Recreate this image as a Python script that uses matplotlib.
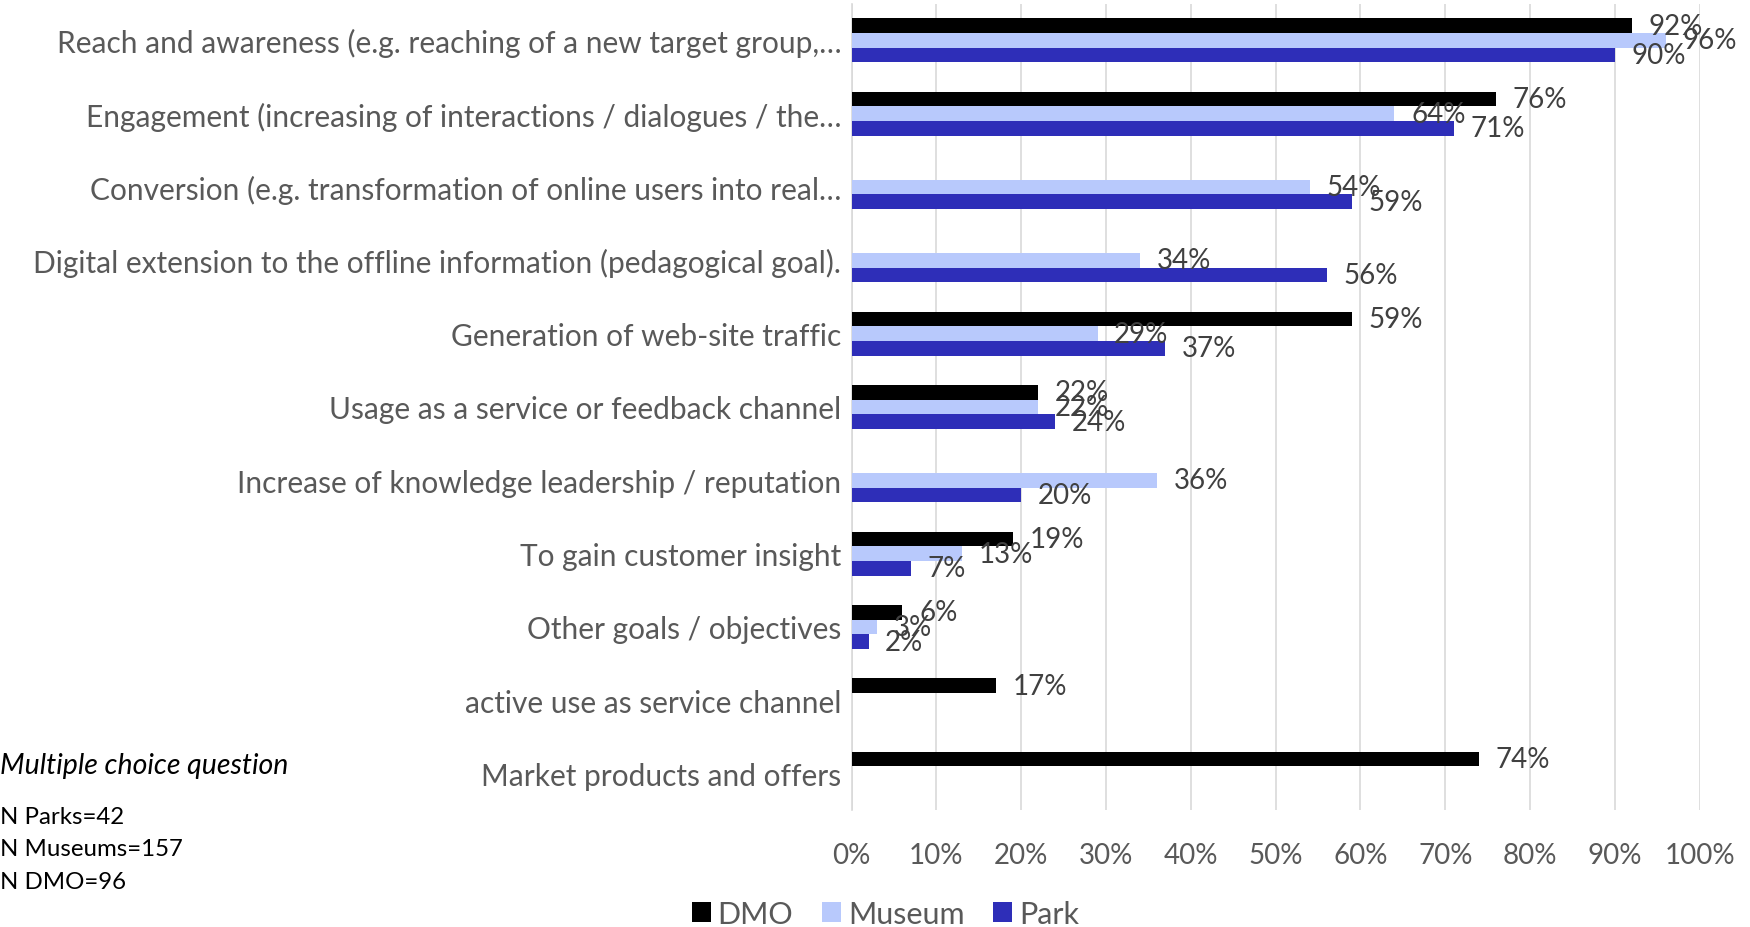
import numpy as np
import matplotlib
matplotlib.use("Agg")
import matplotlib.pyplot as plt
from matplotlib.patches import Patch

plt.rcParams["font.family"] = ["Lato", "DejaVu Sans"]

categories = [
    "Reach and awareness (e.g. reaching of a new target group,…",
    "Engagement (increasing of interactions / dialogues / the…",
    "Conversion (e.g. transformation of online users into real…",
    "Digital extension to the offline information (pedagogical goal).",
    "Generation of web-site traffic",
    "Usage as a service or feedback channel",
    "Increase of knowledge leadership / reputation",
    "To gain customer insight",
    "Other goals / objectives",
    "active use as service channel",
    "Market products and offers",
]

series_names = ["DMO", "Museum", "Park"]
dmo = [92, 76, None, None, 59, 22, None, 19, 6, 17, 74]
museum = [96, 64, 54, 34, 29, 22, 36, 13, 3, None, None]
park = [90, 71, 59, 56, 37, 24, 20, 7, 2, None, None]

colors = ["#000000", "#b8c9fc", "#2e2eb8"]
label_color = "#595959"
value_color = "#404040"

fig = plt.figure(figsize=(17.5, 9.28), dpi=100)
ax = fig.add_axes([0.4866, 0.1259, 0.9713 - 0.4866, 0.995 - 0.1259])

y = np.arange(len(categories))
bar_h = 0.2
offsets = [-bar_h, 0.0, bar_h]

for name, vals, col, off in zip(series_names, [dmo, museum, park], colors, offsets):
    v = np.array([np.nan if x is None else x for x in vals], dtype=float)
    ax.barh(y + off, np.nan_to_num(v), height=bar_h, color=col, zorder=3)
    for yi, val in zip(y, vals):
        if val is None:
            continue
        ax.annotate(f"{val}%", xy=(val, yi + off), xytext=(12, 0),
                    textcoords="offset points", ha="left", va="center",
                    fontsize=20, color=value_color, zorder=4)

ax.set_xlim(0, 100)
ax.set_ylim(len(categories) - 0.5, -0.5)
ax.set_xticks(np.arange(0, 101, 10))
ax.set_xticklabels([f"{t}%" for t in range(0, 101, 10)])
ax.set_yticks(y)
ax.set_yticklabels(categories)

ax.tick_params(axis="x", length=0, pad=23, labelsize=20, labelcolor=label_color)
ax.tick_params(axis="y", length=0, pad=7.5, labelsize=21.5, labelcolor=label_color)

ax.grid(axis="x", color="#d9d9d9", linewidth=1.2, zorder=0)
for side in ["top", "right", "bottom"]:
    ax.spines[side].set_visible(False)
ax.spines["left"].set_color("#d9d9d9")
ax.spines["left"].set_linewidth(1.2)

handles = [Patch(facecolor=c, edgecolor="none") for c in colors]
fig.legend(handles, series_names, loc="center", bbox_to_anchor=(0.506, 0.014),
           ncol=3, frameon=False, fontsize=22, labelcolor=label_color,
           handlelength=0.62, handleheight=0.62, handletextpad=0.22,
           columnspacing=0.95)

fig.text(0.0, 1 - 766 / 928, "Multiple choice question", fontsize=20.5,
         style="italic", ha="left", va="center", color="black")
notes = ["N Parks=42", "N Museums=157", "N DMO=96"]
for note, ypx in zip(notes, [818, 850, 883]):
    fig.text(0.0, 1 - ypx / 928, note, fontsize=17.3, ha="left", va="center",
             color="black")

fig.savefig("out.png", dpi=100)
